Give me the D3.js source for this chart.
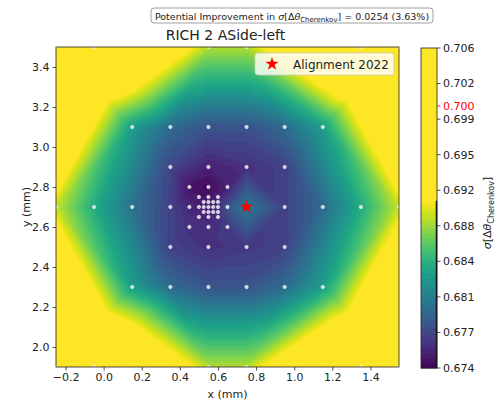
<!DOCTYPE html>
<html>
<head>
<meta charset="utf-8">
<script src="https://cdn.jsdelivr.net/npm/d3@7"></script>
<style>
body { margin: 0; background: #fff; }
text { font-family: "DejaVu Sans", sans-serif; fill: #222; }
</style>
</head>
<body>
<svg id="chart" width="497" height="403"></svg>
<script>
// scan points: misalignment (mm) and measured resolution
var scanX = [
	-0.25, 1.55, -0.25, 1.55,
	-0.05, 0.55, 0.75, 1.35,
	-0.05, 0.55, 0.75, 1.35,
	-0.25, 1.55,
	0.15, 0.35, 0.55, 0.75, 0.95, 1.15,
	0.35, 0.55, 0.75, 0.95,
	0.45, 0.55, 0.65,
	0.50, 0.55, 0.60,
	0.525, 0.55, 0.575, 0.60,
	-0.05, 0.15, 0.35, 0.45, 0.50, 0.525, 0.55, 0.575, 0.60, 0.65, 0.75, 0.95, 1.15, 1.35,
	0.525, 0.55, 0.575, 0.60,
	0.50, 0.55, 0.60,
	0.45, 0.55, 0.65,
	0.35, 0.55, 0.75, 0.95,
	0.15, 0.35, 0.55, 0.75, 0.95, 1.15
];
var scanY = [
	3.5, 3.5, 1.9, 1.9,
	3.5, 3.5, 3.5, 3.5,
	1.9, 1.9, 1.9, 1.9,
	2.7, 2.7,
	3.1, 3.1, 3.1, 3.1, 3.1, 3.1,
	2.9, 2.9, 2.9, 2.9,
	2.8, 2.8, 2.8,
	2.75, 2.75, 2.75,
	2.725, 2.725, 2.725, 2.725,
	2.7, 2.7, 2.7, 2.7, 2.7, 2.7, 2.7, 2.7, 2.7, 2.7, 2.7, 2.7, 2.7, 2.7,
	2.675, 2.675, 2.675, 2.675,
	2.65, 2.65, 2.65,
	2.6, 2.6, 2.6,
	2.5, 2.5, 2.5, 2.5,
	2.3, 2.3, 2.3, 2.3, 2.3, 2.3
];
var scanSigma = [
	0.706, 0.706, 0.706, 0.706,
	0.703, 0.6885, 0.6885, 0.703,
	0.703, 0.6885, 0.6885, 0.703,
	0.689, 0.689,
	0.683, 0.6795, 0.678, 0.678, 0.6795, 0.683,
	0.6772, 0.6752, 0.676, 0.677,
	0.6745, 0.674, 0.6752,
	0.6748, 0.6745, 0.6752,
	0.675, 0.6749, 0.6752, 0.6756,
	0.684, 0.680, 0.677, 0.6755, 0.6752, 0.675, 0.675, 0.6753, 0.6758, 0.678, 0.6805, 0.677, 0.6795, 0.684,
	0.6752, 0.6752, 0.6755, 0.676,
	0.6758, 0.6755, 0.676,
	0.676, 0.6758, 0.6765,
	0.677, 0.676, 0.6765, 0.677,
	0.683, 0.6795, 0.678, 0.678, 0.6795, 0.683
];
var alignX = [0.75];
var alignY = [2.7];

var xTicks = [-0.2, 0.0, 0.2, 0.4, 0.6, 0.8, 1.0, 1.2, 1.4];
var yTicks = [2.0, 2.2, 2.4, 2.6, 2.8, 3.0, 3.2, 3.4];
var cbarTickLabels = ["0.674", "0.677", "0.681", "0.684", "0.688", "0.692", "0.695", "0.699", "0.702", "0.706"];
var cbarMin = 0.6737, cbarMax = 0.70583, colorTop = 0.6905;
var targetSigma = 0.700;
var nLevels = 64;

var svg = d3.select("#chart");

// plot area
var pL = 56, pT = 47, W = 343, H = 320;
var xs = d3.scaleLinear().domain([-0.25, 1.55]).range([pL, pL + W]);
var ys = d3.scaleLinear().domain([1.9, 3.5]).range([pT + H, pT]);

var levels = d3.range(nLevels + 1).map(function (i) { return cbarMin + i * (cbarMax - cbarMin) / nLevels; });
function bandColor(i) {
	var mid = (levels[i] + levels[i + 1]) / 2;
	var t = Math.min(1, (mid - cbarMin) / (colorTop - cbarMin));
	return d3.interpolateViridis(t);
}

//Linear interpolation on the Delaunay triangles (like tricontourf)
var nx = W, ny = H;
var grid = new Float64Array(nx * ny).fill(cbarMax);
var del = d3.Delaunay.from(scanX.map(function (x, i) { return [x, scanY[i]]; }));
var tri = del.triangles;
for (var t = 0; t < tri.length; t += 3) {
	var a = tri[t], b = tri[t + 1], c = tri[t + 2];
	var ax = xs(scanX[a]) - pL, ay = ys(scanY[a]) - pT;
	var bx = xs(scanX[b]) - pL, by = ys(scanY[b]) - pT;
	var cx = xs(scanX[c]) - pL, cy = ys(scanY[c]) - pT;
	var den = (by - cy) * (ax - cx) + (cx - bx) * (ay - cy);
	var i0 = Math.max(0, Math.floor(Math.min(ax, bx, cx))), i1 = Math.min(nx - 1, Math.ceil(Math.max(ax, bx, cx)));
	var j0 = Math.max(0, Math.floor(Math.min(ay, by, cy))), j1 = Math.min(ny - 1, Math.ceil(Math.max(ay, by, cy)));
	for (var j = j0; j <= j1; j++) {
		for (var i = i0; i <= i1; i++) {
			var px = i + 0.5, py = j + 0.5;
			var l1 = ((by - cy) * (px - cx) + (cx - bx) * (py - cy)) / den;
			var l2 = ((cy - ay) * (px - cx) + (ax - cx) * (py - cy)) / den;
			var l3 = 1 - l1 - l2;
			if (l1 < -1e-6 || l2 < -1e-6 || l3 < -1e-6) continue;
			grid[j * nx + i] = l1 * scanSigma[a] + l2 * scanSigma[b] + l3 * scanSigma[c];
		}
	}
}

var contours = d3.contours().size([nx, ny]).thresholds(levels.slice(0, nLevels))(grid);
var path = d3.geoPath(d3.geoIdentity().translate([pL, pT]).scale(W / nx));

svg.append("clipPath").attr("id", "plotclip")
	.append("rect").attr("x", pL).attr("y", pT).attr("width", W).attr("height", H);

var plot = svg.append("g").attr("clip-path", "url(#plotclip)");
plot.append("rect").attr("x", pL).attr("y", pT).attr("width", W).attr("height", H)
	.attr("fill", bandColor(0));
plot.selectAll("path.band").data(contours).enter().append("path")
	.attr("class", "band")
	.attr("d", path)
	.attr("fill", function (d, i) { return bandColor(i); })
	.attr("stroke", function (d, i) { return bandColor(i); })
	.attr("stroke-width", 0.4);

// scan points
plot.selectAll("circle.scan").data(scanX).enter().append("circle")
	.attr("class", "scan")
	.attr("cx", function (d) { return xs(d); })
	.attr("cy", function (d, i) { return ys(scanY[i]); })
	.attr("r", 1.7)
	.attr("fill", "#e4e4ee")
	.attr("fill-opacity", 0.9)
	.attr("stroke", "#ffffff")
	.attr("stroke-width", 0.5);

// alignment 2022 star
var star = d3.symbol().type(d3.symbolStar).size(55);
plot.selectAll("path.align").data(alignX).enter().append("path")
	.attr("class", "align")
	.attr("d", star)
	.attr("transform", function (d, i) { return "translate(" + xs(d) + "," + ys(alignY[i]) + ")"; })
	.attr("fill", "#ff0000");

// axes
var xAxis = svg.append("g").attr("transform", "translate(0," + (pT + H) + ")")
	.call(d3.axisBottom(xs).tickValues(xTicks).tickSize(3.5).tickPadding(3)
		.tickFormat(function (d) { return d3.format(".1f")(d).replace("-", "\u2212"); }));
var yAxis = svg.append("g").attr("transform", "translate(" + pL + ",0)")
	.call(d3.axisLeft(ys).tickValues(yTicks).tickSize(3.5).tickPadding(3).tickFormat(d3.format(".1f")));
[xAxis, yAxis].forEach(function (g) {
	g.select(".domain").remove();
	g.selectAll("line").attr("stroke", "#222").attr("stroke-width", 0.8);
	g.selectAll("text").attr("font-size", 11).attr("fill", "#222")
		.attr("font-family", "DejaVu Sans, sans-serif");
});
svg.append("rect").attr("x", pL).attr("y", pT).attr("width", W).attr("height", H)
	.attr("fill", "none").attr("stroke", "#222").attr("stroke-width", 0.8);

svg.append("text").attr("x", pL + W / 2).attr("y", 398).attr("text-anchor", "middle")
	.attr("font-size", 11).text("x (mm)");
svg.append("text").attr("transform", "translate(30," + (pT + H / 2) + ") rotate(-90)")
	.attr("text-anchor", "middle").attr("font-size", 11).text("y (mm)");

// title
svg.append("text").attr("x", pL + W / 2 - 2).attr("y", 40).attr("text-anchor", "middle")
	.attr("font-size", 14).text("RICH 2 ASide-left");

// improvement box
var note = svg.append("g");
note.append("rect").attr("x", 151).attr("y", 8).attr("width", 282).attr("height", 15).attr("rx", 3)
	.attr("fill", "#fff").attr("stroke", "#888").attr("stroke-width", 0.8);
var noteText = note.append("text").attr("x", 292).attr("y", 19.5).attr("text-anchor", "middle").attr("font-size", 9.5);
noteText.append("tspan").text("Potential Improvement in ");
noteText.append("tspan").attr("font-style", "italic").text("\u03c3");
noteText.append("tspan").text("[\u0394");
noteText.append("tspan").attr("font-style", "italic").text("\u03b8");
noteText.append("tspan").attr("font-size", 7).attr("dy", 2).text("Cherenkov");
noteText.append("tspan").attr("dy", -2).text("] = 0.0254 (3.63%)");

// legend
var leg = svg.append("g");
leg.append("rect").attr("x", 255).attr("y", 53).attr("width", 139).attr("height", 22).attr("rx", 3)
	.attr("fill", "#fff").attr("fill-opacity", 0.8).attr("stroke", "#ccc").attr("stroke-width", 0.8);
leg.append("path").attr("d", star).attr("transform", "translate(272,64)").attr("fill", "#ff0000");
leg.append("text").attr("x", 293).attr("y", 68.5).attr("font-size", 12).text("Alignment 2022");

// colorbar
var cbX = 421, cbW = 16;
var cs = d3.scaleLinear().domain([cbarMin, cbarMax]).range([368, 48]);
var cb = svg.append("g");
cb.selectAll("rect.lvl").data(d3.range(nLevels)).enter().append("rect")
	.attr("class", "lvl")
	.attr("x", cbX).attr("width", cbW)
	.attr("y", function (i) { return cs(levels[i + 1]); })
	.attr("height", function (i) { return cs(levels[i]) - cs(levels[i + 1]) + 0.5; })
	.attr("fill", function (i) { return bandColor(i); });
cb.append("line").attr("x1", cbX + cbW - 0.5).attr("x2", cbX + cbW - 0.5)
	.attr("y1", cs(colorTop)).attr("y2", 368).attr("stroke", "#111").attr("stroke-width", 1.5);
cb.append("rect").attr("x", cbX).attr("y", 48).attr("width", cbW).attr("height", 320)
	.attr("fill", "none").attr("stroke", "#222").attr("stroke-width", 0.8);

var cbTicks = cbarTickLabels.map(function (s, i) { return { v: cbarMin + i * (cbarMax - cbarMin) / 9, s: s, red: false }; });
cbTicks.push({ v: targetSigma, s: "0.700", red: true });
var ct = cb.selectAll("g.tick").data(cbTicks).enter().append("g")
	.attr("transform", function (d) { return "translate(" + (cbX + cbW) + "," + cs(d.v) + ")"; });
ct.append("line").attr("x2", 3.5).attr("stroke", function (d) { return d.red ? "#ff0000" : "#222"; }).attr("stroke-width", 0.8);
ct.append("text").attr("x", 6).attr("dy", "0.35em").attr("font-size", 11)
	.style("fill", function (d) { return d.red ? "#ff0000" : "#222"; })
	.text(function (d) { return d.s; });

var cbl = svg.append("text").attr("transform", "translate(491," + 213 + ") rotate(-90)")
	.attr("text-anchor", "middle").attr("font-size", 11);
cbl.append("tspan").attr("font-style", "italic").text("\u03c3");
cbl.append("tspan").text("[\u0394");
cbl.append("tspan").attr("font-style", "italic").text("\u03b8");
cbl.append("tspan").attr("font-size", 8).attr("dy", 2.5).text("Cherenkov");
cbl.append("tspan").attr("dy", -2.5).text("]");
</script>
</body>
</html>
